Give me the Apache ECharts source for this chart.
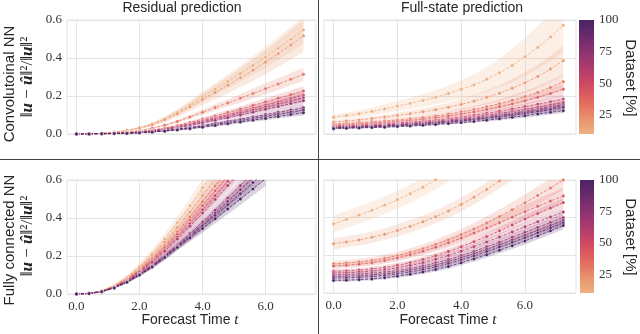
<!DOCTYPE html>
<html>
<head>
<meta charset="utf-8">
<script src="https://cdn.jsdelivr.net/npm/echarts@6/dist/echarts.min.js"></script>
<style>
  html, body { margin: 0; padding: 0; background: #fff; }
  #chart { width: 640px; height: 334px; }
</style>
</head>
<body>
<div id="chart"></div>
<script>
// forecast time samples
const t = [0, 0.4, 0.8, 1.2, 1.6, 2.0, 2.4, 2.8, 3.2, 3.6, 4.0, 4.4, 4.8, 5.2, 5.6, 6.0, 6.4, 6.8, 7.2];
// dataset share [%] for each curve
const datasets = [10, 20, 30, 40, 50, 60, 70, 80, 90, 100];
const colors = ["#edb081", "#ea9870", "#e67963", "#dd5e5e", "#cd4862", "#b43d6b", "#9a366f", "#7f2f70", "#63296a", "#4b2362"];
const xTicks = [0, 2, 4, 6];
const cbTicks = [25, 50, 75, 100];

// residual prediction, convolutional NN
const resCnn = [
  [0, 0.001, 0.004, 0.010, 0.019, 0.033, 0.052, 0.080, 0.115, 0.154, 0.196, 0.236, 0.276, 0.318, 0.361, 0.405, 0.451, 0.499, 0.548],
  [0, 0.001, 0.004, 0.009, 0.018, 0.031, 0.049, 0.075, 0.107, 0.143, 0.182, 0.219, 0.257, 0.296, 0.336, 0.378, 0.423, 0.469, 0.517],
  [0, 0.001, 0.002, 0.005, 0.010, 0.018, 0.030, 0.046, 0.066, 0.090, 0.115, 0.139, 0.163, 0.188, 0.213, 0.238, 0.263, 0.288, 0.314],
  [0, 0.001, 0.002, 0.004, 0.007, 0.012, 0.020, 0.031, 0.045, 0.061, 0.078, 0.095, 0.113, 0.131, 0.150, 0.169, 0.188, 0.207, 0.226],
  [0, 0.001, 0.002, 0.003, 0.006, 0.011, 0.018, 0.028, 0.040, 0.054, 0.069, 0.085, 0.101, 0.118, 0.135, 0.152, 0.169, 0.187, 0.205],
  [0, 0.001, 0.002, 0.003, 0.006, 0.010, 0.017, 0.026, 0.037, 0.050, 0.064, 0.079, 0.094, 0.110, 0.126, 0.142, 0.158, 0.174, 0.191],
  [0, 0.000, 0.001, 0.003, 0.005, 0.009, 0.015, 0.023, 0.033, 0.045, 0.058, 0.072, 0.086, 0.100, 0.115, 0.130, 0.145, 0.160, 0.175],
  [0, 0.000, 0.001, 0.002, 0.004, 0.007, 0.012, 0.018, 0.026, 0.035, 0.045, 0.056, 0.067, 0.078, 0.090, 0.102, 0.114, 0.126, 0.138],
  [0, 0.000, 0.001, 0.002, 0.004, 0.007, 0.011, 0.017, 0.024, 0.032, 0.041, 0.051, 0.061, 0.071, 0.082, 0.093, 0.104, 0.115, 0.126],
  [0, 0.000, 0.001, 0.002, 0.003, 0.006, 0.010, 0.015, 0.021, 0.028, 0.036, 0.045, 0.054, 0.063, 0.073, 0.082, 0.092, 0.102, 0.112]
];
const resCnnBand = [
  [0, 0, 0.001, 0.002, 0.003, 0.005, 0.008, 0.012, 0.017, 0.022, 0.027, 0.032, 0.037, 0.043, 0.049, 0.055, 0.061, 0.067, 0.073],
  [0, 0, 0.001, 0.002, 0.003, 0.005, 0.009, 0.014, 0.019, 0.025, 0.031, 0.037, 0.043, 0.050, 0.057, 0.064, 0.071, 0.078, 0.085],
  [0, 0, 0.001, 0.001, 0.002, 0.003, 0.004, 0.006, 0.008, 0.011, 0.014, 0.017, 0.020, 0.023, 0.026, 0.029, 0.031, 0.033, 0.035],
  [0, 0, 0, 0.001, 0.001, 0.002, 0.003, 0.004, 0.005, 0.007, 0.009, 0.011, 0.013, 0.015, 0.017, 0.019, 0.021, 0.023, 0.025],
  [0, 0, 0, 0.001, 0.001, 0.002, 0.003, 0.004, 0.005, 0.006, 0.008, 0.010, 0.012, 0.014, 0.016, 0.018, 0.020, 0.022, 0.024],
  [0, 0, 0, 0.001, 0.001, 0.002, 0.002, 0.003, 0.004, 0.006, 0.008, 0.009, 0.011, 0.013, 0.015, 0.017, 0.019, 0.021, 0.023],
  [0, 0, 0, 0.001, 0.001, 0.002, 0.002, 0.003, 0.004, 0.005, 0.007, 0.009, 0.010, 0.012, 0.014, 0.016, 0.018, 0.020, 0.022],
  [0, 0, 0, 0, 0.001, 0.001, 0.002, 0.002, 0.003, 0.004, 0.005, 0.006, 0.008, 0.009, 0.010, 0.012, 0.013, 0.015, 0.016],
  [0, 0, 0, 0, 0.001, 0.001, 0.002, 0.002, 0.003, 0.004, 0.005, 0.006, 0.007, 0.008, 0.009, 0.011, 0.012, 0.013, 0.015],
  [0, 0, 0, 0, 0.001, 0.001, 0.001, 0.002, 0.003, 0.003, 0.004, 0.005, 0.006, 0.007, 0.008, 0.010, 0.011, 0.012, 0.014]
];

// full-state prediction, convolutional NN
const fullCnn = [
  [0.088, 0.097, 0.107, 0.119, 0.132, 0.147, 0.161, 0.176, 0.193, 0.213, 0.235, 0.258, 0.288, 0.322, 0.360, 0.407, 0.455, 0.510, 0.572],
  [0.063, 0.068, 0.074, 0.081, 0.089, 0.098, 0.107, 0.117, 0.128, 0.141, 0.156, 0.173, 0.193, 0.215, 0.241, 0.270, 0.303, 0.342, 0.386],
  [0.053, 0.056, 0.060, 0.064, 0.069, 0.074, 0.080, 0.087, 0.095, 0.105, 0.117, 0.129, 0.143, 0.159, 0.177, 0.197, 0.219, 0.245, 0.275],
  [0.047, 0.050, 0.053, 0.057, 0.061, 0.066, 0.071, 0.077, 0.085, 0.094, 0.105, 0.116, 0.129, 0.143, 0.158, 0.175, 0.193, 0.213, 0.235],
  [0.042, 0.045, 0.047, 0.050, 0.054, 0.058, 0.062, 0.067, 0.073, 0.081, 0.090, 0.099, 0.109, 0.120, 0.132, 0.145, 0.157, 0.170, 0.184],
  [0.039, 0.041, 0.043, 0.046, 0.049, 0.053, 0.057, 0.062, 0.067, 0.074, 0.082, 0.090, 0.099, 0.108, 0.118, 0.130, 0.141, 0.153, 0.167],
  [0.035, 0.037, 0.040, 0.042, 0.045, 0.049, 0.053, 0.057, 0.062, 0.069, 0.076, 0.083, 0.091, 0.100, 0.109, 0.120, 0.131, 0.143, 0.156],
  [0.033, 0.035, 0.037, 0.040, 0.043, 0.046, 0.050, 0.054, 0.059, 0.065, 0.072, 0.079, 0.086, 0.095, 0.104, 0.114, 0.124, 0.135, 0.147],
  [0.032, 0.034, 0.036, 0.038, 0.041, 0.044, 0.047, 0.051, 0.056, 0.062, 0.068, 0.075, 0.082, 0.090, 0.099, 0.108, 0.118, 0.128, 0.140],
  [0.028, 0.030, 0.032, 0.034, 0.036, 0.039, 0.042, 0.046, 0.050, 0.055, 0.060, 0.066, 0.073, 0.080, 0.088, 0.096, 0.105, 0.114, 0.123]
];
const fullCnnBand = [
  [0.015, 0.016, 0.018, 0.020, 0.023, 0.027, 0.030, 0.033, 0.037, 0.042, 0.049, 0.057, 0.065, 0.075, 0.087, 0.100, 0.112, 0.126, 0.140],
  [0.008, 0.009, 0.010, 0.011, 0.012, 0.014, 0.016, 0.018, 0.021, 0.024, 0.028, 0.032, 0.037, 0.042, 0.048, 0.055, 0.062, 0.070, 0.078],
  [0.006, 0.006, 0.007, 0.007, 0.008, 0.009, 0.010, 0.011, 0.012, 0.014, 0.016, 0.018, 0.020, 0.023, 0.026, 0.029, 0.032, 0.036, 0.040],
  [0.005, 0.005, 0.005, 0.006, 0.006, 0.007, 0.007, 0.008, 0.009, 0.010, 0.012, 0.013, 0.015, 0.017, 0.019, 0.021, 0.024, 0.027, 0.030],
  [0.004, 0.004, 0.004, 0.005, 0.005, 0.005, 0.006, 0.007, 0.007, 0.008, 0.009, 0.010, 0.012, 0.013, 0.015, 0.017, 0.019, 0.021, 0.023],
  [0.004, 0.004, 0.004, 0.004, 0.005, 0.005, 0.005, 0.006, 0.007, 0.007, 0.008, 0.009, 0.010, 0.012, 0.013, 0.015, 0.016, 0.018, 0.020],
  [0.003, 0.003, 0.003, 0.004, 0.004, 0.004, 0.005, 0.005, 0.006, 0.006, 0.007, 0.008, 0.009, 0.010, 0.011, 0.012, 0.014, 0.015, 0.017],
  [0.003, 0.003, 0.003, 0.003, 0.004, 0.004, 0.004, 0.005, 0.005, 0.006, 0.007, 0.007, 0.008, 0.009, 0.010, 0.011, 0.013, 0.014, 0.016],
  [0.003, 0.003, 0.003, 0.003, 0.003, 0.004, 0.004, 0.005, 0.005, 0.006, 0.006, 0.007, 0.008, 0.009, 0.010, 0.011, 0.012, 0.013, 0.015],
  [0.003, 0.003, 0.003, 0.003, 0.003, 0.003, 0.004, 0.004, 0.005, 0.005, 0.006, 0.006, 0.007, 0.008, 0.009, 0.010, 0.011, 0.012, 0.013]
];

// residual prediction, fully connected NN (curves leave the 0.6 frame)
const resFc = [
  [0, 0.003, 0.017, 0.045, 0.088, 0.145, 0.212, 0.290, 0.375, 0.465, 0.560, 0.655],
  [0, 0.003, 0.016, 0.043, 0.083, 0.137, 0.200, 0.272, 0.350, 0.432, 0.518, 0.605, 0.690],
  [0, 0.003, 0.015, 0.040, 0.078, 0.128, 0.187, 0.254, 0.327, 0.405, 0.486, 0.568, 0.650],
  [0, 0.003, 0.015, 0.039, 0.075, 0.123, 0.180, 0.244, 0.314, 0.388, 0.465, 0.543, 0.622],
  [0, 0.002, 0.014, 0.037, 0.072, 0.118, 0.172, 0.233, 0.300, 0.370, 0.443, 0.518, 0.594, 0.670],
  [0, 0.002, 0.014, 0.036, 0.070, 0.114, 0.166, 0.225, 0.289, 0.356, 0.426, 0.498, 0.571, 0.645],
  [0, 0.002, 0.013, 0.034, 0.065, 0.105, 0.151, 0.203, 0.259, 0.318, 0.379, 0.441, 0.505, 0.570, 0.636],
  [0, 0.002, 0.013, 0.033, 0.064, 0.103, 0.147, 0.198, 0.252, 0.308, 0.366, 0.426, 0.487, 0.549, 0.612],
  [0, 0.002, 0.012, 0.033, 0.063, 0.101, 0.145, 0.195, 0.248, 0.302, 0.358, 0.413, 0.470, 0.528, 0.587, 0.646],
  [0, 0.002, 0.012, 0.032, 0.062, 0.100, 0.142, 0.192, 0.245, 0.295, 0.345, 0.396, 0.448, 0.500, 0.553, 0.606]
];
const resFcBand = [
  [0, 0.001, 0.003, 0.007, 0.012, 0.017, 0.022, 0.028, 0.034, 0.040, 0.046, 0.052],
  [0, 0.001, 0.003, 0.006, 0.010, 0.015, 0.020, 0.025, 0.030, 0.035, 0.040, 0.045, 0.050],
  [0, 0.001, 0.003, 0.006, 0.009, 0.013, 0.018, 0.022, 0.027, 0.031, 0.035, 0.039, 0.043],
  [0, 0.001, 0.002, 0.005, 0.008, 0.012, 0.016, 0.020, 0.024, 0.028, 0.032, 0.036, 0.040],
  [0, 0.001, 0.002, 0.005, 0.008, 0.011, 0.015, 0.018, 0.022, 0.025, 0.029, 0.032, 0.035, 0.038],
  [0, 0.001, 0.002, 0.004, 0.007, 0.010, 0.013, 0.016, 0.019, 0.022, 0.025, 0.028, 0.031, 0.034],
  [0, 0.001, 0.002, 0.004, 0.007, 0.010, 0.013, 0.016, 0.019, 0.022, 0.025, 0.028, 0.031, 0.034, 0.037],
  [0, 0.001, 0.002, 0.004, 0.006, 0.009, 0.012, 0.015, 0.018, 0.021, 0.024, 0.027, 0.030, 0.033, 0.036],
  [0, 0.001, 0.002, 0.004, 0.006, 0.009, 0.011, 0.014, 0.017, 0.020, 0.023, 0.026, 0.029, 0.032, 0.035, 0.038],
  [0, 0.001, 0.002, 0.003, 0.006, 0.008, 0.011, 0.014, 0.016, 0.019, 0.022, 0.025, 0.028, 0.031, 0.034, 0.037]
];

// full-state prediction, fully connected NN
const fullFc = [
  [0.367, 0.390, 0.414, 0.439, 0.466, 0.495, 0.527, 0.562, 0.600, 0.640],
  [0.261, 0.271, 0.282, 0.296, 0.312, 0.332, 0.354, 0.378, 0.405, 0.435, 0.470, 0.508, 0.550, 0.595, 0.640],
  [0.155, 0.159, 0.165, 0.173, 0.184, 0.198, 0.215, 0.235, 0.257, 0.282, 0.310, 0.340, 0.372, 0.406, 0.442, 0.479, 0.518, 0.558, 0.600],
  [0.143, 0.147, 0.153, 0.161, 0.172, 0.186, 0.203, 0.222, 0.243, 0.267, 0.292, 0.318, 0.345, 0.373, 0.402, 0.432, 0.460, 0.488, 0.515],
  [0.116, 0.118, 0.122, 0.128, 0.136, 0.147, 0.161, 0.178, 0.198, 0.220, 0.245, 0.272, 0.300, 0.330, 0.361, 0.393, 0.422, 0.451, 0.480],
  [0.106, 0.108, 0.111, 0.116, 0.123, 0.133, 0.146, 0.161, 0.179, 0.199, 0.222, 0.246, 0.271, 0.297, 0.324, 0.352, 0.378, 0.404, 0.430],
  [0.097, 0.098, 0.101, 0.105, 0.111, 0.119, 0.130, 0.144, 0.160, 0.178, 0.199, 0.221, 0.245, 0.270, 0.296, 0.322, 0.348, 0.374, 0.400],
  [0.088, 0.089, 0.092, 0.096, 0.102, 0.110, 0.121, 0.134, 0.149, 0.167, 0.187, 0.209, 0.232, 0.256, 0.281, 0.307, 0.333, 0.359, 0.385],
  [0.079, 0.080, 0.083, 0.087, 0.093, 0.101, 0.111, 0.124, 0.139, 0.156, 0.176, 0.197, 0.220, 0.244, 0.269, 0.294, 0.320, 0.346, 0.372],
  [0.067, 0.068, 0.071, 0.075, 0.081, 0.089, 0.099, 0.111, 0.125, 0.141, 0.160, 0.181, 0.203, 0.227, 0.251, 0.276, 0.303, 0.330, 0.358]
];
const fullFcBand = [
  [0.045, 0.045, 0.046, 0.046, 0.047, 0.047, 0.048, 0.048, 0.049, 0.050],
  [0.030, 0.030, 0.030, 0.031, 0.031, 0.032, 0.033, 0.034, 0.035, 0.036, 0.037, 0.038, 0.039, 0.040, 0.041],
  [0.016, 0.016, 0.017, 0.018, 0.019, 0.020, 0.022, 0.024, 0.026, 0.028, 0.030, 0.032, 0.035, 0.038, 0.041, 0.044, 0.047, 0.050, 0.053],
  [0.014, 0.014, 0.015, 0.016, 0.017, 0.018, 0.019, 0.021, 0.023, 0.025, 0.027, 0.029, 0.031, 0.033, 0.035, 0.037, 0.039, 0.041, 0.043],
  [0.010, 0.010, 0.010, 0.011, 0.011, 0.012, 0.013, 0.014, 0.015, 0.016, 0.017, 0.018, 0.019, 0.020, 0.021, 0.022, 0.023, 0.024, 0.025],
  [0.009, 0.009, 0.009, 0.010, 0.010, 0.011, 0.012, 0.013, 0.014, 0.015, 0.016, 0.017, 0.018, 0.019, 0.020, 0.021, 0.022, 0.023, 0.024],
  [0.008, 0.008, 0.008, 0.009, 0.009, 0.010, 0.011, 0.012, 0.013, 0.014, 0.015, 0.016, 0.017, 0.018, 0.019, 0.020, 0.021, 0.022, 0.023],
  [0.008, 0.008, 0.008, 0.008, 0.009, 0.009, 0.010, 0.011, 0.012, 0.013, 0.014, 0.015, 0.016, 0.017, 0.018, 0.019, 0.020, 0.021, 0.022],
  [0.007, 0.007, 0.007, 0.008, 0.008, 0.009, 0.010, 0.010, 0.011, 0.012, 0.013, 0.014, 0.015, 0.016, 0.017, 0.018, 0.019, 0.020, 0.021],
  [0.007, 0.007, 0.007, 0.007, 0.008, 0.008, 0.009, 0.010, 0.011, 0.012, 0.013, 0.014, 0.015, 0.016, 0.017, 0.018, 0.019, 0.020, 0.021]
];

const panels = [
  { mean: resCnn, band: resCnnBand },
  { mean: fullCnn, band: fullCnnBand },
  { mean: resFc, band: resFcBand },
  { mean: fullFc, band: fullFcBand }
];

const serif = "'Liberation Serif', 'DejaVu Serif', serif";
const sans = "'Liberation Sans', Arial, sans-serif";
const gridColor = "#e4e4e4";

const chart = echarts.init(document.getElementById("chart"), null, { renderer: "canvas" });

const grids = [
  { left: 67, top: 20, width: 249, height: 114 },
  { left: 324, top: 20, width: 252, height: 114 },
  { left: 67, top: 180, width: 249, height: 114 },
  { left: 324, top: 180, width: 252, height: 113 },
  { left: 579, top: 20, width: 15, height: 114 },
  { left: 580, top: 180, width: 14, height: 113 }
].map((g, i) => Object.assign(g, { show: i < 4, borderColor: gridColor, borderWidth: 1 }));

const xAxes = [];
const yAxes = [];
for (let i = 0; i < 4; i++) {
  xAxes.push({
    type: "value", gridIndex: i, min: -0.3, max: 7.6,
    axisLine: { show: false },
    axisTick: { show: false, customValues: xTicks },
    axisLabel: {
      show: i >= 2, customValues: xTicks, margin: 6,
      formatter: v => v.toFixed(1),
      fontFamily: serif, fontSize: 13, color: "#333"
    },
    splitLine: { show: true, lineStyle: { color: gridColor, width: 1 } }
  });
  yAxes.push({
    type: "value", gridIndex: i, min: 0, max: 0.6, interval: 0.2,
    axisLine: { show: false },
    axisTick: { show: false },
    axisLabel: {
      show: i % 2 === 0, margin: 5,
      formatter: v => v.toFixed(1),
      fontFamily: serif, fontSize: 13, color: "#333"
    },
    splitLine: { show: true, lineStyle: { color: gridColor, width: 1 } }
  });
}
// colorbar axes
for (let i = 4; i < 6; i++) {
  xAxes.push({ type: "value", gridIndex: i, min: 0, max: 1, show: false });
  yAxes.push({
    type: "value", gridIndex: i, min: 10, max: 100, position: "right",
    axisLine: { show: false },
    axisTick: { show: true, length: 3, customValues: cbTicks, lineStyle: { color: "#555", width: 1 } },
    axisLabel: { customValues: cbTicks, margin: 5, fontFamily: serif, fontSize: 13, color: "#333" },
    splitLine: { show: false }
  });
}

const series = [];
panels.forEach((p, gi) => {
  series.push({
    type: "custom", xAxisIndex: gi, yAxisIndex: gi, clip: true, silent: true, z: 1,
    data: datasets.map((d, k) => [k]),
    renderItem: (params, api) => {
      const k = api.value(0);
      const m = p.mean[k], s = p.band[k];
      const upper = [], lower = [];
      for (let i = 0; i < m.length; i++) {
        upper.push(api.coord([t[i], m[i] + s[i]]));
        lower.unshift(api.coord([t[i], m[i] - s[i]]));
      }
      return {
        type: "polygon",
        shape: { points: upper.concat(lower) },
        style: { fill: colors[k], opacity: 0.2 }
      };
    }
  });
  p.mean.forEach((m, k) => {
    series.push({
      type: "line", name: datasets[k] + "%", xAxisIndex: gi, yAxisIndex: gi,
      data: m.map((v, i) => [t[i], v]),
      symbol: "circle", symbolSize: 3.5, clip: true, silent: true, z: 3,
      lineStyle: { color: colors[k], width: 0.8, type: [3, 1.5] },
      itemStyle: { color: colors[k], borderColor: "#fff", borderWidth: 0.4 }
    });
  });
});

// colorbars
const cbStops = datasets.map((d, k) => ({ offset: (100 - d) / 90, color: colors[k] })).reverse();
[4, 5].forEach(gi => {
  series.push({
    type: "custom", xAxisIndex: gi, yAxisIndex: gi, silent: true,
    data: [[0, 10, 1, 100]],
    renderItem: (params, api) => {
      const a = api.coord([api.value(0), api.value(3)]);
      const b = api.coord([api.value(2), api.value(1)]);
      return {
        type: "rect",
        shape: { x: a[0], y: a[1], width: b[0] - a[0], height: b[1] - a[1] },
        style: { fill: new echarts.graphic.LinearGradient(0, 0, 0, 1, cbStops) }
      };
    }
  });
});

const mathRich = {
  n: { fontFamily: serif, fontSize: 17, fill: "#262626" },
  b: { fontFamily: serif, fontSize: 17, fontStyle: "italic", fontWeight: "bold", fill: "#262626" }
};
const mathText = "{n|‖}{b|u}{n| − }{b|û}{n|‖²/‖}{b|u}{n|‖²}";
const xName = "{s|Forecast Time }{m|t}";
const xRich = {
  s: { fontFamily: sans, fontSize: 14, fill: "#262626" },
  m: { fontFamily: serif, fontSize: 15, fontStyle: "italic", fill: "#262626" }
};

function label(text, x, y, rot, size) {
  return {
    type: "text", x: x, y: y, rotation: rot || 0,
    style: { text: text, font: (size || 14) + "px " + sans, fill: "#262626", align: "center", verticalAlign: "middle" }
  };
}
function richLabel(text, rich, x, y, rot) {
  return {
    type: "text", x: x, y: y, rotation: rot || 0,
    style: { text: text, rich: rich, align: "center", verticalAlign: "middle" }
  };
}

chart.setOption({
  animation: false,
  backgroundColor: "#fff",
  grid: grids,
  xAxis: xAxes,
  yAxis: yAxes,
  series: series,
  graphic: [
    { type: "line", shape: { x1: 0, y1: 159.5, x2: 640, y2: 159.5 }, style: { stroke: "#444", lineWidth: 1 } },
    { type: "line", shape: { x1: 318.5, y1: 0, x2: 318.5, y2: 334 }, style: { stroke: "#444", lineWidth: 1 } },
    label("Residual prediction", 182, 8),
    label("Full-state prediction", 462, 8),
    label("Convolutoinal NN", 10, 84, Math.PI / 2, 15),
    label("Fully connected NN", 10, 240, Math.PI / 2, 15),
    richLabel(mathText, mathRich, 28, 77, Math.PI / 2),
    richLabel(mathText, mathRich, 28, 236, Math.PI / 2),
    richLabel(xName, xRich, 190, 320),
    richLabel(xName, xRich, 448, 320),
    label("Dataset [%]", 630, 78, -Math.PI / 2, 15),
    label("Dataset [%]", 630, 237, -Math.PI / 2, 15)
  ]
});

window.addEventListener("resize", function () {
  chart.resize();
});
</script>
</body>
</html>
